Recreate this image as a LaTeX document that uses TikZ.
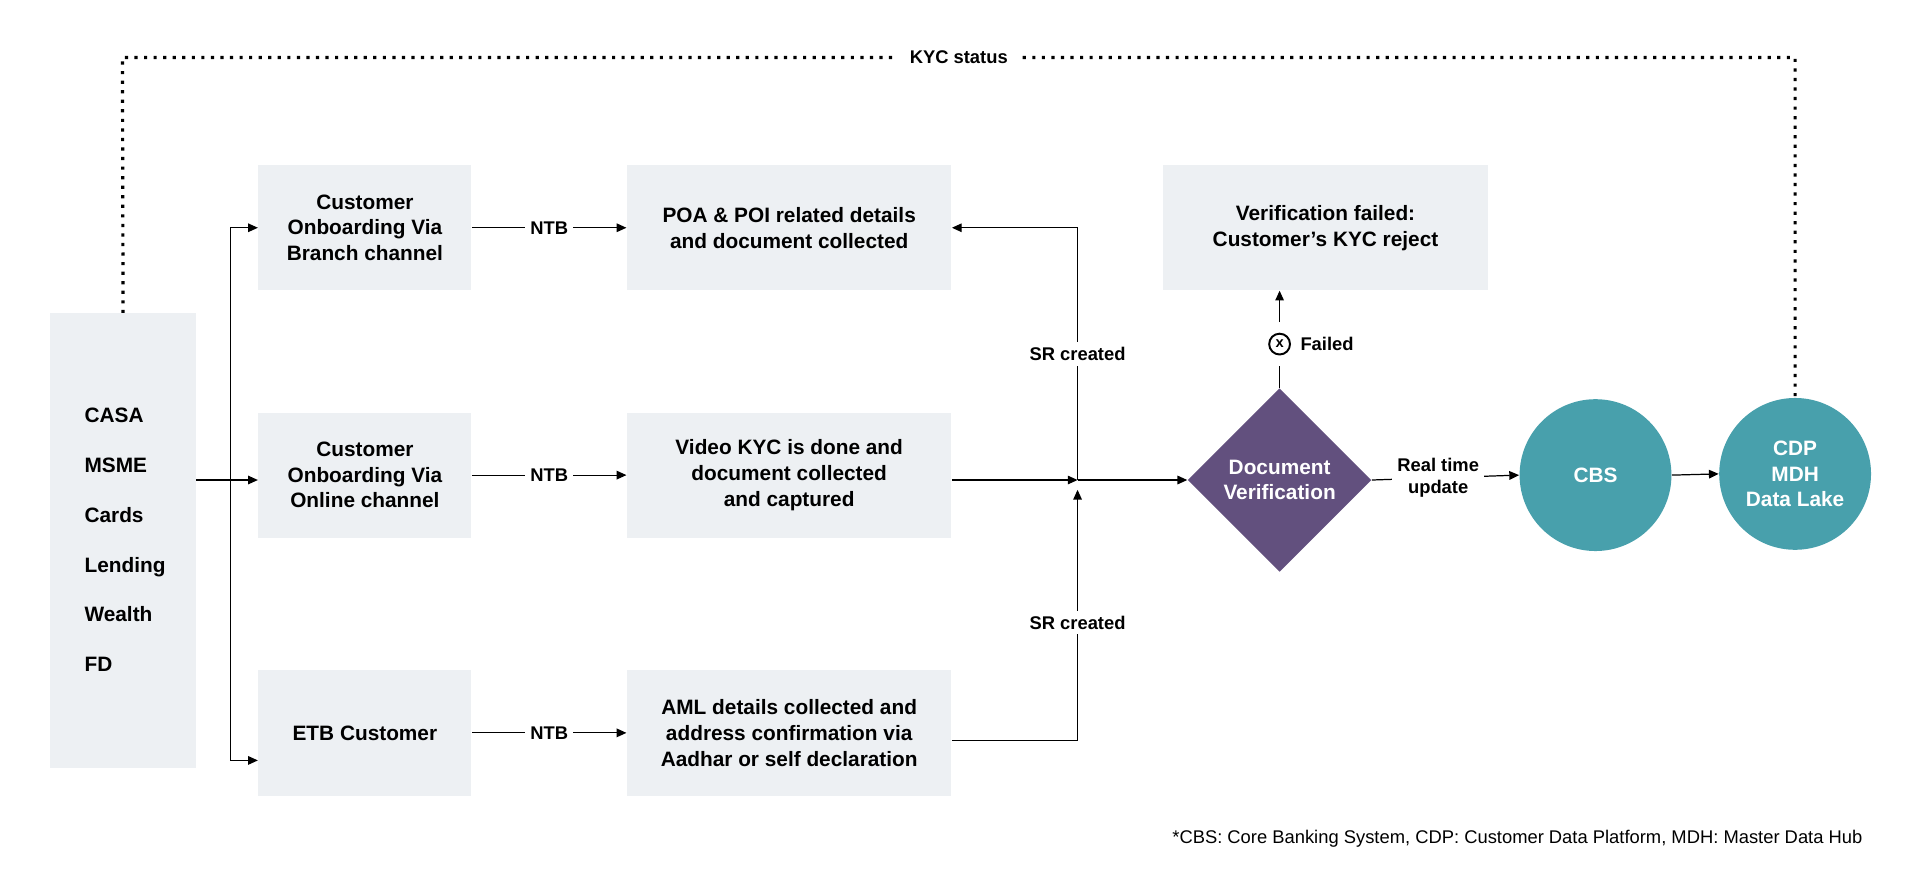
\documentclass[tikz,border=0pt]{standalone}
\usepackage{fontspec}
\setmainfont{Liberation Sans}
\usetikzlibrary{shapes.geometric,arrows.meta}
\definecolor{boxc}{HTML}{EDF0F3}
\definecolor{dia}{HTML}{62507E}
\definecolor{teal}{HTML}{48A0AC}
\begin{document}
\begin{tikzpicture}[x=0.5pt,y=-0.5pt,
 box/.style={fill=boxc,draw=none,align=center,font=\fontsize{8.5}{10.5}\selectfont\bfseries,inner sep=0},
 lbl/.style={font=\fontsize{7.5}{9}\selectfont\bfseries,fill=white,inner sep=2pt,align=center},
 ar/.style={-{Triangle[length=4pt,width=3.5pt]},line width=0.5pt},
 ln/.style={line width=0.5pt},
 circ/.style={circle,fill=teal,minimum size=62pt,text=white,align=center,font=\fontsize{8.5}{10.5}\selectfont\bfseries,inner sep=0}]
\useasboundingbox (0,0) rectangle (1568,729);
% boxes
\node[box,minimum width=59.5pt,minimum height=185.5pt,align=left] (src) at (100.5,441.5) {};
\node[font=\fontsize{8.5}{20.3}\selectfont\bfseries,align=left,anchor=west] at (62,441) {CASA\\MSME\\Cards\\Lending\\Wealth\\FD};
\node[box,minimum width=87pt,minimum height=51pt] (b1) at (298,186) {Customer\\Onboarding Via\\Branch channel};
\node[box,minimum width=87pt,minimum height=51pt] (b2) at (298,388) {Customer\\Onboarding Via\\Online channel};
\node[box,minimum width=87pt,minimum height=51.5pt] (b3) at (298,598.5) {ETB Customer};
\node[box,minimum width=132.5pt,minimum height=51pt] (m1) at (644.5,186) {POA \& POI related details\\and document collected};
\node[box,minimum width=132.5pt,minimum height=51pt] (m2) at (644.5,388) {Video KYC is done and\\document collected\\and captured};
\node[box,minimum width=132.5pt,minimum height=51.5pt] (m3) at (644.5,598.5) {AML details collected and\\address confirmation via\\Aadhar or self declaration};
\node[box,minimum width=132.5pt,minimum height=51pt] (fail) at (1082.5,186) {Verification failed:\\Customer’s KYC reject};
\node[diamond,fill=dia,minimum width=75pt,minimum height=75pt,inner sep=0,text=white,align=center,font=\fontsize{8.5}{10.5}\selectfont\bfseries] (dv) at (1045,392) {Document\\Verification};
\node[circ] (cbs) at (1303,388) {CBS};
\node[circ] (cdp) at (1466,387) {CDP\\MDH\\Data Lake};
% coordinates
\coordinate (j) at (880,392);
\coordinate (s) at (188,392);
% left fan
\draw[ln] (src.east|-s) -- (s);
\draw[ar] (s) |- (b1.west);
\draw[ar] (s) -- (b2.west|-s);
\draw[ar] (s) |- (b3.west|-0,621);
% NTB
\foreach \a/\b in {b1/m1,b2/m2,b3/m3}{
 \draw[ar] (\a.east) -- node[lbl]{NTB} (\b.west);}
% middle joins
\draw[ar] (m2.east|-j) -- (j);
\draw[ar] (j) -- (dv.west);
\draw[ar] (j) -- node[lbl,pos=0.5]{SR created} (880,186) -- (m1.east|-0,186);
\draw[ar] (m3.east|-0,605) -- (880,605) -- node[lbl,pos=0.47]{SR created} (880,400);
% failed
\node[font=\fontsize{7.5}{9}\selectfont\bfseries,anchor=west] (ft) at (1055,281) {Failed};
\node[circle,draw,line width=0.8pt,minimum size=8.5pt,inner sep=0,font=\fontsize{6}{6}\selectfont\bfseries] (x) at (1045,281) {x};
\draw[ln] (dv.north) -- (1045,299);
\draw[ar] (1045,263) -- (fail.south-|1045,0);
% right
\draw[ar] (dv.east) -- node[lbl,pos=0.45]{Real time\\update} (cbs.west);
\draw[ar] (cbs.east) -- (cdp.west);
% dotted
\draw[line width=1.3pt,dash pattern=on 1.3pt off 2.6pt] (src.north) -- (100,47) -- node[lbl,fill=white,inner xsep=6pt]{KYC status} (1466,47) -- (cdp.north);
\node[anchor=east,font=\fontsize{7.5}{9}\selectfont] at (1528,685) {*CBS: Core Banking System, CDP: Customer Data Platform, MDH: Master Data Hub};
\end{tikzpicture}
\end{document}
